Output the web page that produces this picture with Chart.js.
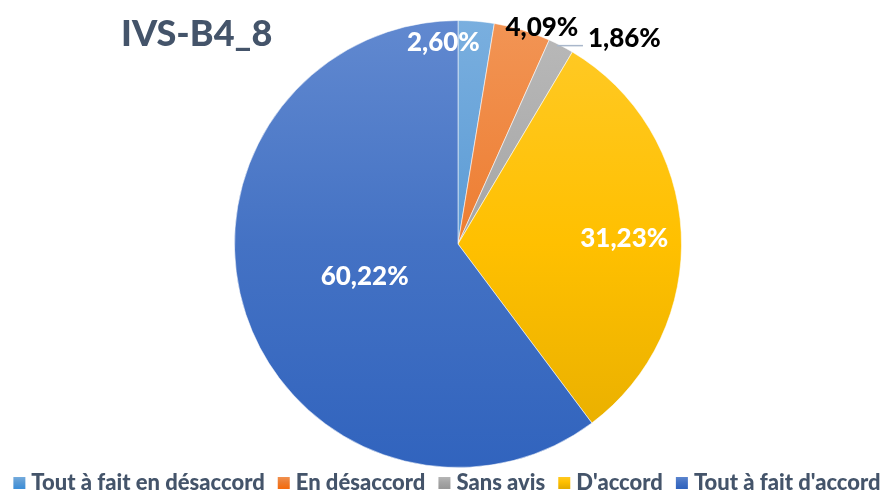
<!DOCTYPE html>
<html>
<head>
<meta charset="utf-8">
<script src="https://cdn.jsdelivr.net/npm/chart.js@4.4.0/dist/chart.umd.min.js"></script>
<style>
  html, body { margin: 0; padding: 0; background: #ffffff; }
  canvas { display: block; }
</style>
</head>
<body>
<canvas id="c" width="888" height="492"></canvas>
<script>
// Survey answers for item IVS-B4_8 (share of respondents, %)
const chartTitle = 'IVS-B4_8';
const categories = ['Tout à fait en désaccord', 'En désaccord', 'Sans avis', "D'accord", "Tout à fait d'accord"];
const shares = [2.60, 4.09, 1.86, 31.23, 60.22];

// Styling, kept apart from the data
const sliceColors = ['#5B9BD5', '#ED7D31', '#A5A5A5', '#FFC000', '#4472C4'];
const labelColors = ['#FFFFFF', '#000000', '#000000', '#FFFFFF', '#FFFFFF'];
// where each value label sits: fraction of the radius along the slice bisector plus a nudge
const labelPlacement = [
  { f: 0.90, dx: -31, dy: -1 },
  { f: 1.04, dx: 17, dy: 6 },
  { leader: true, len: 22 },
  { f: 0.745, dx: 0, dy: 3 },
  { f: 0.44, dx: 0, dy: 2 }
];
const FONT = 'Lato, "Open Sans", "DejaVu Sans", sans-serif';
const WEIGHT = 900;
const TEXT_DARK = '#44546A';

// hex -> [h, s, l] with s and l in percent
function toHsl(hex) {
  let r = parseInt(hex.slice(1, 3), 16) / 255, g = parseInt(hex.slice(3, 5), 16) / 255, b = parseInt(hex.slice(5, 7), 16) / 255;
  const max = Math.max(r, g, b), min = Math.min(r, g, b);
  let h = 0, s = 0;
  const l = (max + min) / 2;
  if (max !== min) {
    const d = max - min;
    s = l > 0.5 ? d / (2 - max - min) : d / (max + min);
    if (max === r) h = (g - b) / d + (g < b ? 6 : 0);
    else if (max === g) h = (b - r) / d + 2;
    else h = (r - g) / d + 4;
    h *= 60;
  }
  return [h, s * 100, l * 100];
}

function tone(hex, dl, ds) {
  const [h, s, l] = toHsl(hex);
  const sat = s > 0 ? Math.min(100, s + ds) : 0;
  const lig = Math.max(0, Math.min(100, l + dl));
  return `hsl(${h.toFixed(1)},${sat.toFixed(1)}%,${lig.toFixed(1)}%)`;
}

function shade(ctx2d, base, top, bottom) {
  const g = ctx2d.createLinearGradient(0, top, 0, bottom);
  g.addColorStop(0, tone(base, 8, 2));
  g.addColorStop(0.5, base);
  g.addColorStop(1, tone(base, -5, 7));
  return g;
}

const fmt = v => v.toFixed(2).replace('.', ',') + '%';

const titlePlugin = {
  id: 'cornerTitle',
  afterDraw(chart) {
    const c = chart.ctx;
    c.save();
    c.font = `${WEIGHT} 36px ${FONT}`;
    c.fillStyle = TEXT_DARK;
    c.textAlign = 'left';
    c.textBaseline = 'alphabetic';
    c.fillText(chartTitle, 121, 46);
    c.restore();
  }
};

const valueLabels = {
  id: 'valueLabels',
  afterDatasetsDraw(chart) {
    const c = chart.ctx;
    const meta = chart.getDatasetMeta(0);
    c.save();
    c.font = `${WEIGHT} 26px ${FONT}`;
    c.textBaseline = 'middle';
    meta.data.forEach((arc, i) => {
      const { x, y, startAngle, endAngle, outerRadius } = arc.getProps(['x', 'y', 'startAngle', 'endAngle', 'outerRadius'], true);
      const mid = (startAngle + endAngle) / 2;
      const pl = labelPlacement[i];
      const text = fmt(chart.data.datasets[0].data[i]);
      c.fillStyle = labelColors[i];
      if (pl.leader) {
        const ex = x + Math.cos(mid) * outerRadius;
        const ey = y + Math.sin(mid) * outerRadius;
        c.strokeStyle = '#A9B7CB';
        c.lineWidth = 1.5;
        c.beginPath();
        c.moveTo(ex - 4, ey);
        c.lineTo(ex + pl.len, ey);
        c.stroke();
        c.textAlign = 'left';
        c.fillText(text, ex + pl.len + 5, ey - 7);
      } else {
        const r = outerRadius * pl.f;
        c.textAlign = 'center';
        c.fillText(text, x + Math.cos(mid) * r + pl.dx, y + Math.sin(mid) * r + pl.dy);
      }
    });
    c.restore();
  }
};

const bottomLegend = {
  id: 'bottomLegend',
  afterDraw(chart) {
    const c = chart.ctx;
    const box = 12, gap = 6, spacing = 13;
    const cy = 482;
    c.save();
    c.font = `${WEIGHT} 22px ${FONT}`;
    const widths = chart.data.labels.map(t => c.measureText(t).width);
    const total = widths.reduce((s, w) => s + box + gap + w, 0) + spacing * (widths.length - 1);
    let xPos = 447 - total / 2;
    c.textBaseline = 'middle';
    c.textAlign = 'left';
    chart.data.labels.forEach((t, i) => {
      c.fillStyle = shade(c, sliceColors[i], cy - box / 2, cy + box / 2);
      c.fillRect(xPos, cy - box / 2 + 1, box, box);
      xPos += box + gap;
      c.fillStyle = TEXT_DARK;
      c.fillText(t, xPos, cy + 1);
      xPos += widths[i] + spacing;
    });
    c.restore();
  }
};

new Chart(document.getElementById('c'), {
  type: 'pie',
  data: {
    labels: categories,
    datasets: [{
      data: shares,
      backgroundColor(ctx) {
        const a = ctx.chart.chartArea;
        const base = sliceColors[ctx.dataIndex];
        if (!a) return base;
        return shade(ctx.chart.ctx, base, a.top, a.bottom);
      },
      borderColor: 'rgba(255,255,255,0.55)',
      borderWidth: 1
    }]
  },
  options: {
    responsive: false,
    animation: false,
    devicePixelRatio: 1,
    layout: { padding: { left: 234, right: 206, top: 20, bottom: 24 } },
    plugins: {
      legend: { display: false },
      title: { display: false },
      tooltip: { enabled: false }
    }
  },
  plugins: [valueLabels, titlePlugin, bottomLegend]
});
</script>
</body>
</html>
